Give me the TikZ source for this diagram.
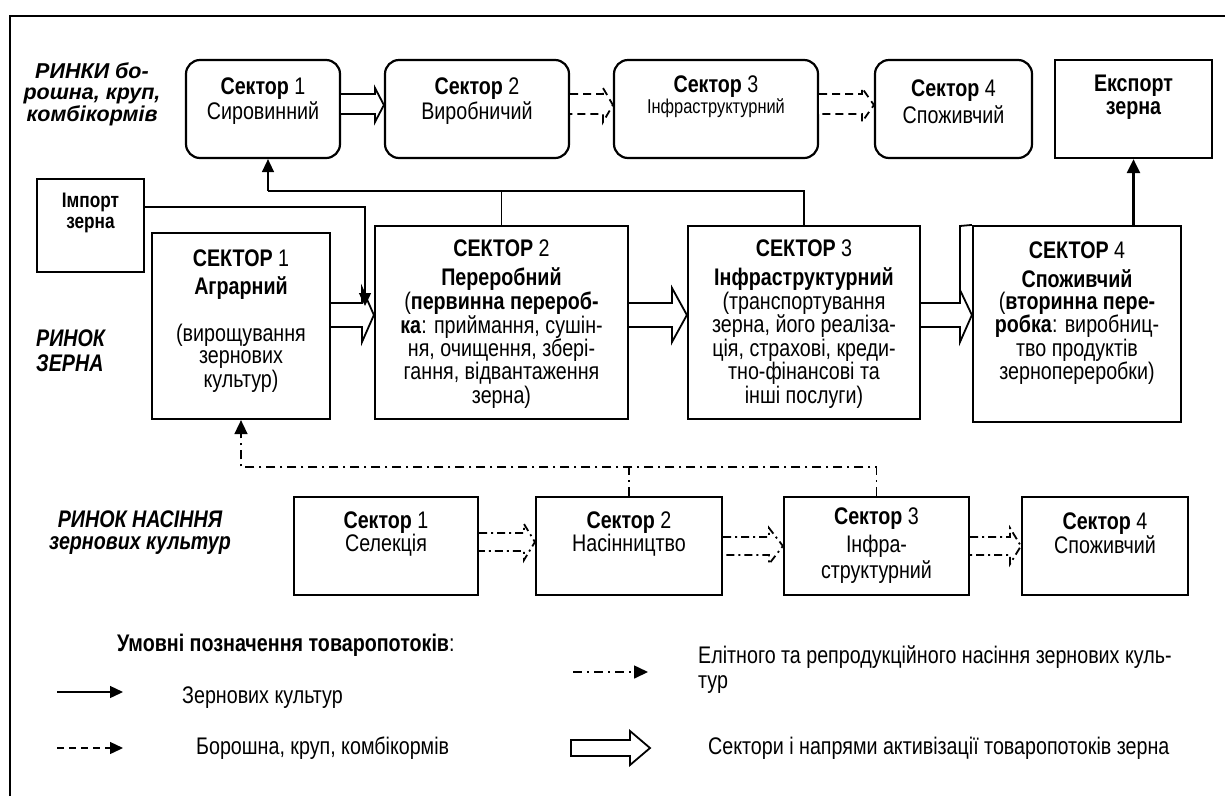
\documentclass[tikz,border=0pt]{standalone}
\usepackage{fontspec}
\setmainfont{Liberation Sans}[FakeStretch=0.82]
\newfontfamily\wideff{Liberation Sans}
\usetikzlibrary{arrows.meta,calc}
\begin{document}
\begin{tikzpicture}[x=1pt,y=-1pt,
  base/.style={font=\fontsize{24}{22}\selectfont, inner sep=0pt},
  txt/.style={base, align=center},
  lbl/.style={txt, font=\fontsize{24}{22}\selectfont\bfseries\itshape},
  rbox/.style={draw, line width=2.2pt, rounded corners=14pt, inner sep=0pt},
  sbox/.style={draw, line width=2.2pt, inner sep=0pt},
  flow/.style={line width=1.4pt, -{Triangle[length=13pt,width=12pt]}},
  hol/.style={draw, line width=1.8pt, fill=white, line join=miter},
  holdash/.style={hol, dash pattern=on 8pt off 5pt},
  holdd/.style={hol, dash pattern=on 8pt off 4pt on 2pt off 4pt},
  seed/.style={line width=1.6pt, dash pattern=on 9pt off 5pt on 2pt off 5pt, -{Triangle[length=14pt,width=13pt]}}
]
\useasboundingbox (0,0) rectangle (1225,796);
\fill[white] (0,0) rectangle (1225,796);
% frame
\draw[line width=2.4pt] (10,796) -- (10,16) -- (1225,16);

% ---------- top row ----------
\node[txt, font=\wideff\fontsize{21.5}{21.5}\selectfont\bfseries\itshape] (lab1) at (92,94) {РИНКИ бо-\\рошна, круп,\\комбікормів};
\node[rbox, minimum width=154pt, minimum height=98pt] (s1) at (263,109) {};
\node[rbox, minimum width=184pt, minimum height=98pt] (s2) at (477,109) {};
\node[rbox, minimum width=204pt, minimum height=98pt] (s3) at (716,109) {};
\node[rbox, minimum width=157pt, minimum height=98pt] (s4) at (953.5,109) {};
\node[sbox, minimum width=157pt, minimum height=98pt] (ex) at (1133.5,109) {};
\node[txt] (s1t) at (263,101) {\textbf{Сектор} 1\\[1pt]Сировинний};
\node[txt] (s2t) at (477,101) {\textbf{Сектор} 2\\[1pt]Виробничий};
\node[txt] (s3t) at (716,97) {\textbf{Сектор} 3\\[-1pt]{\fontsize{20}{19}\selectfont Інфраструктурний}};
\node[txt] (s4t) at (953.5,102) {\textbf{Сектор} 4\\[3pt]Споживчий};
\node[txt, font=\fontsize{24}{22}\selectfont\bfseries] (ext) at (1133.5,97) {Експорт\\[1pt]зерна};

\draw[hol] (s1.east |- 0,94) -- (375,94) -- (375,88) -- (s2.west |- 0,105) -- (375,122) -- (375,114) -- (s1.east |- 0,114);
\draw[holdash] (s2.east |- 0,94) -- (603,94) -- (603,88) -- (s3.west |- 0,105) -- (603,122) -- (603,114) -- (s2.east |- 0,114);
\draw[holdash] (s3.east |- 0,94) -- (862,94) -- (862,88) -- (s4.west |- 0,105) -- (862,122) -- (862,114) -- (s3.east |- 0,114);

% ---------- middle row ----------
\node[sbox, minimum width=107pt, minimum height=93pt] (imp) at (90.5,225.5) {};
\node[txt, font=\fontsize{21}{21}\selectfont\bfseries] (impt) at (90.5,213) {Імпорт\\зерна};
\node[lbl, align=left, anchor=west] (lab2) at (36,351) {РИНОК\\[3pt]ЗЕРНА};
\node[sbox, minimum width=178pt, minimum height=186pt] (m1) at (241,326) {};
\node[sbox, minimum width=253pt, minimum height=193pt] (m2) at (501.5,322.5) {};
\node[sbox, minimum width=232pt, minimum height=193pt] (m3) at (804,322.5) {};
\node[sbox, minimum width=208pt, minimum height=196pt] (m4) at (1077,324) {};
\node[txt] (m1t) at (241,321) {\textbf{СЕКТОР} 1\\[6pt]\textbf{Аграрний}\\[24pt](вирощування\\зернових\\культур)};
\node[txt] (m2t) at (501.5,324) {\textbf{СЕКТОР} 2\\[7pt]\textbf{Переробний}\\(\textbf{первинна перероб-}\\\textbf{ка}: приймання, сушін-\\ня, очищення, збері-\\гання, відвантаження\\зерна)};
\node[txt] (m3t) at (804,324) {\textbf{СЕКТОР} 3\\[7pt]\textbf{Інфраструктурний}\\(транспортування\\зерна, його реаліза-\\ція, страхові, креди-\\тно-фінансові та\\інші послуги)};
\node[txt] (m4t) at (1077,313) {\textbf{СЕКТОР} 4\\[7pt]\textbf{Споживчий}\\(\textbf{вторинна пере-}\\\textbf{робка}: виробниц-\\тво продуктів\\зернопереробки)};

\draw[hol] (m1.east |- 0,303) -- (362,303) -- (362,288) -- (m2.west |- 0,315) -- (362,342) -- (362,327) -- (m1.east |- 0,327);
\draw[hol] (m2.east |- 0,303) -- (672,303) -- (672,288) -- (m3.west |- 0,315) -- (672,342) -- (672,327) -- (m2.east |- 0,327);
\draw[hol] (m3.east |- 0,303) -- (960,303) -- (960,290) -- (m4.west |- 0,315) -- (960,342) -- (960,327) -- (m3.east |- 0,327);
\draw[line width=1.8pt] (960,290) -- (960,226) -- (m4.north west);

% grain flows
\coordinate (impend) at (365,306);
\draw[flow] (imp.east |- 0,207) -| (impend);
\draw[line width=1.4pt] (m3.north) |- (268,191);
\draw[line width=1.4pt] (m2.north) -- (m2.north |- 0,191);
\draw[flow] (268,191) -- (s1.south -| 268,0);
\draw[line width=2.6pt, -{Triangle[length=14pt,width=13pt]}] (m4.north -| ex.south) -- (ex.south);

% ---------- bottom row ----------
\node[lbl] (lab3) at (140,533) {РИНОК НАСІННЯ\\зернових культур};
\node[sbox, minimum width=184pt, minimum height=98pt] (b1) at (386,546) {};
\node[sbox, minimum width=186pt, minimum height=98pt] (b2) at (629,546) {};
\node[sbox, minimum width=185pt, minimum height=98pt] (b3) at (876.5,546) {};
\node[sbox, minimum width=166pt, minimum height=98pt] (b4) at (1105,546) {};
\node[txt] (b1t) at (386,534) {\textbf{Сектор} 1\\Селекція};
\node[txt] (b2t) at (629,534) {\textbf{Сектор} 2\\Насінництво};
\node[txt] (b3t) at (876.5,546) {\textbf{Сектор} 3\\[4pt]Інфра-\\[3pt]структурний};
\node[txt] (b4t) at (1105,533) {\textbf{Сектор} 4\\Споживчий};

\draw[holdd] (b1.east |- 0,533) -- (524,533) -- (524,524) -- (b2.west |- 0,542) -- (524,560) -- (524,551) -- (b1.east |- 0,551);
\draw[holdd] (b2.east |- 0,537) -- (769,537) -- (769,528) -- (b3.west |- 0,546) -- (769,564) -- (769,555) -- (b2.east |- 0,555);
\draw[holdd] (b3.east |- 0,537) -- (1010,537) -- (1010,528) -- (b4.west |- 0,546) -- (1010,564) -- (1010,555) -- (b3.east |- 0,555);

% seed flows
\draw[seed] (b3.north) |- (m1.south |- 0,467) -- (m1.south);
\draw[line width=1.6pt, dash pattern=on 9pt off 5pt on 2pt off 5pt] (b2.north) -- (b2.north |- 0,467);

% ---------- legend ----------
\node[base, font=\fontsize{24}{22}\selectfont\bfseries, anchor=west] (legt) at (117,645) {Умовні позначення товаропотоків\textmd{:}};
\coordinate (l1a) at (57,692); \coordinate (l1b) at (123,692);
\draw[flow] (l1a) -- (l1b);
\node[base, anchor=west] (l1t) at (182,698) {Зернових культур};
\coordinate (l2a) at (57,748); \coordinate (l2b) at (123,748);
\draw[flow, dash pattern=on 7pt off 5pt] (l2a) -- (l2b);
\node[base, anchor=west] (l2t) at (196,748) {Борошна, круп, комбікормів};
\coordinate (l3a) at (573,672); \coordinate (l3b) at (648,672);
\draw[seed] (l3a) -- (l3b);
\node[base, anchor=west, align=left] (l3t) at (698,670) {Елітного та репродукційного насіння зернових куль-\\[3pt]тур};
\draw[hol] (571,740) -- (630,740) -- (630,731) -- (650,748) -- (630,765) -- (630,756) -- (571,756) -- cycle;
\node[base, anchor=west] (l4t) at (708,748) {Сектори і напрями активізації товаропотоків зерна};
\end{tikzpicture}
\end{document}
